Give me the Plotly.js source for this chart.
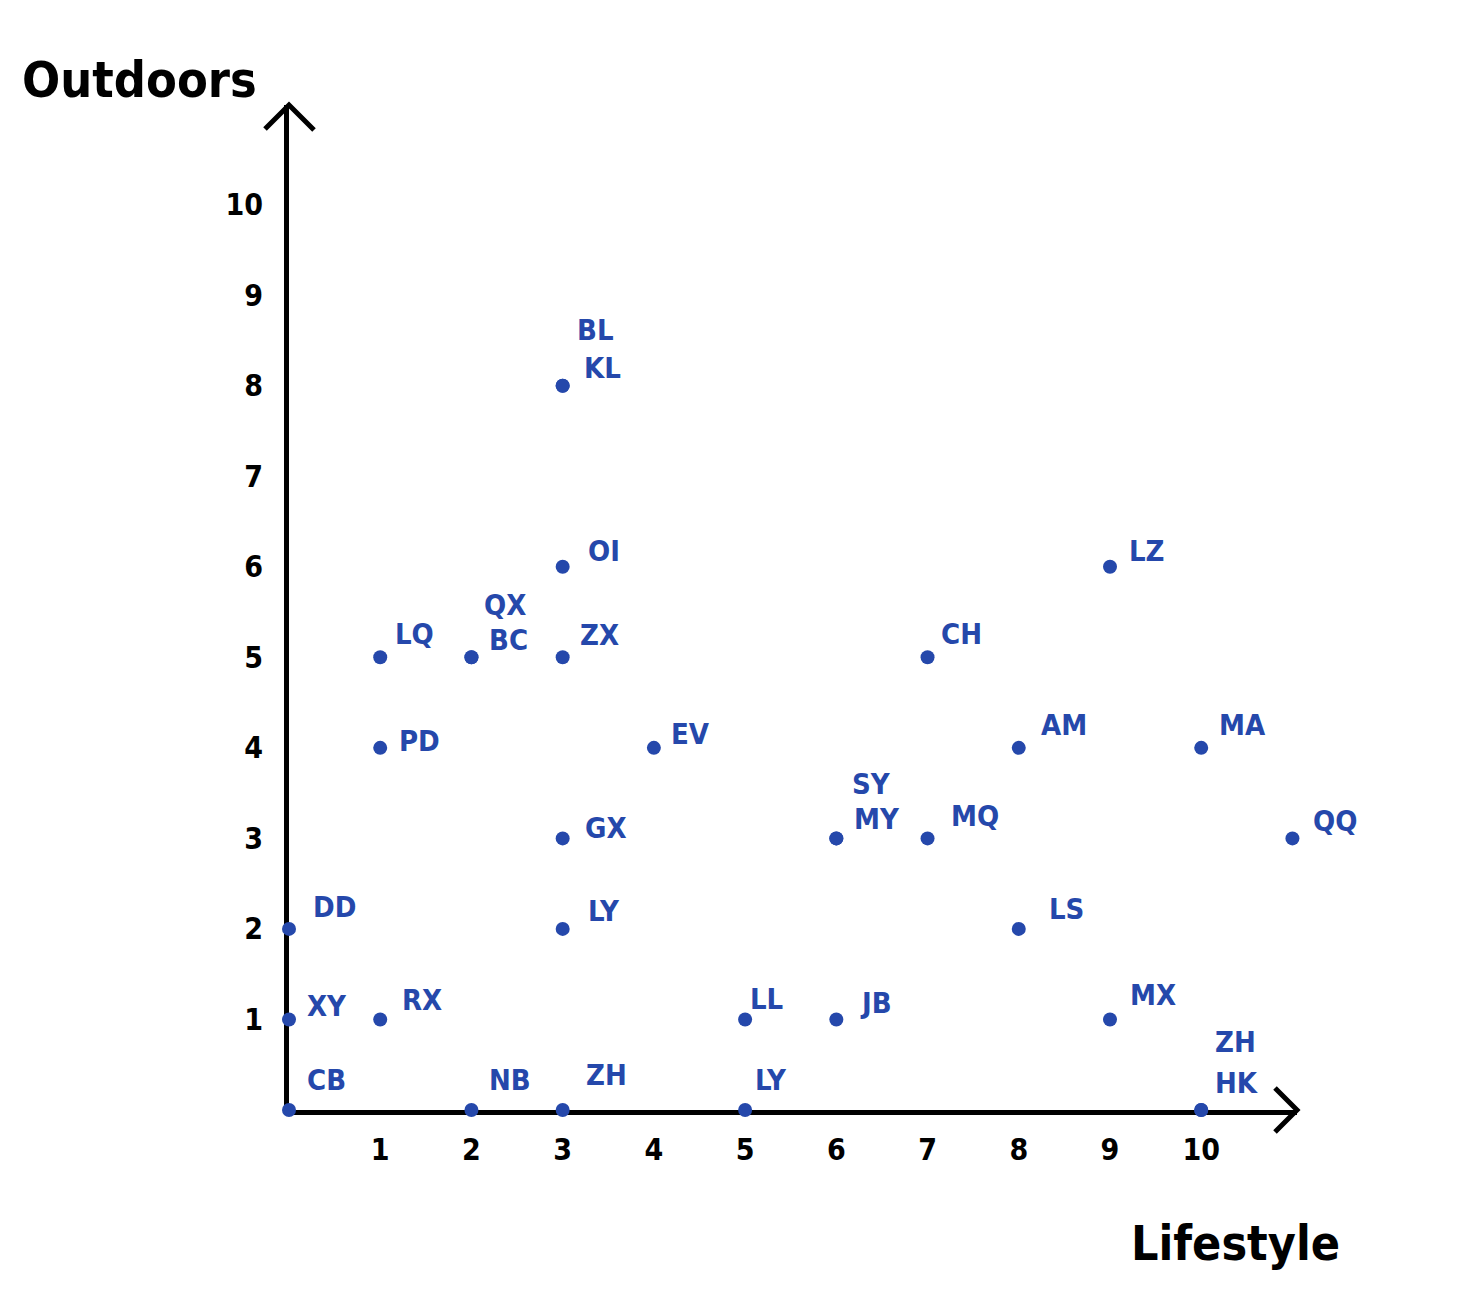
<!DOCTYPE html>
<html>
<head>
<meta charset="utf-8">
<script src="https://cdn.plot.ly/plotly-3.0.1.min.js"></script>
<style>html,body{margin:0;padding:0;background:#fff;}#chart{width:1470px;height:1298px;}</style>
</head>
<body>
<div id="chart"></div>
<script>
// Data
const names     = ['CB','XY','DD','RX','PD','LQ','QX','BC','NB','ZH','LY','GX','ZX','OI','KL','BL','EV','LL','LY','JB','SY','MY','MQ','CH','AM','LS','LZ','MX','ZH','HK','MA','QQ'];
const lifestyle = [0,0,0,1,1,1,2,2,2,3,3,3,3,3,3,3,4,5,5,6,6,6,7,7,8,8,9,9,10,10,10,11];
const outdoors  = [0,1,2,1,4,5,5,5,0,0,2,3,5,6,8,8,4,1,0,1,3,3,3,5,4,2,6,1,0,0,4,3];
const tickVals  = [1,2,3,4,5,6,7,8,9,10];
const tickText  = ['1','2','3','4','5','6','7','8','9','10'];

// Label placement (pixel offsets from each dot), style only
const labelDx = [16,16,22,20,17,13,11,16,16,21,23,20,15,23,19,12,15,3,8,22,14,16,21,11,20,28,17,18,12,12,16,19];
const labelDy = [30,13,22,19,7,23,52,17,30,35,18,10,22,16,18,56,14,20,30,16,54,19,22,23,23,20,16,24,68,27,23,17];

const BLUE = '#2548ab';
const FONT = 'DejaVu Sans Condensed, Noto Sans, sans-serif';

const trace = {
  type: 'scatter',
  mode: 'markers',
  x: lifestyle,
  y: outdoors,
  text: names,
  marker: {color: BLUE, size: 14},
  cliponaxis: false,
  hoverinfo: 'text+x+y'
};

const annotations = names.map((n, i) => ({
  x: lifestyle[i], y: outdoors[i], xref: 'x', yref: 'y',
  text: n, showarrow: false, xanchor: 'left', yanchor: 'middle',
  xshift: labelDx[i], yshift: labelDy[i],
  font: {family: FONT, size: 29, color: BLUE, weight: 'bold'}
}));

annotations.push({
  xref: 'paper', yref: 'paper', x: -0.148, y: 1.0249, xanchor: 'center', yanchor: 'middle',
  text: 'Outdoors', showarrow: false,
  font: {family: FONT, size: 50, color: '#000', weight: 'bold'}
});
annotations.push({
  xref: 'paper', yref: 'paper', x: 0.9385, y: -0.1323, xanchor: 'center', yanchor: 'middle',
  text: 'Lifestyle', showarrow: false,
  font: {family: FONT, size: 48, color: '#000', weight: 'bold'}
});

const shapes = [
  // x-axis arrow head
  {type: 'path', xref: 'paper', yref: 'paper', xsizemode: 'pixel', ysizemode: 'pixel',
   xanchor: 1, yanchor: 0, path: 'M -22 22 L 0 0 L -22 -22',
   line: {color: '#000', width: 5}},
  // y-axis arrow head
  {type: 'path', xref: 'paper', yref: 'paper', xsizemode: 'pixel', ysizemode: 'pixel',
   xanchor: 0, yanchor: 1, path: 'M -24 -24 L 0 0 L 25 -25',
   line: {color: '#000', width: 5}}
];

const layout = {
  width: 1470, height: 1298,
  margin: {l: 289, r: 173, t: 105, b: 188, pad: 0},
  paper_bgcolor: '#fff', plot_bgcolor: '#fff',
  showlegend: false,
  xaxis: {
    range: [0, 11.05], showgrid: false, zeroline: false,
    showline: true, linecolor: '#000', linewidth: 5, layer: 'below traces',
    tickvals: tickVals, ticktext: tickText, ticks: '',
    ticklabelstandoff: 9,
    tickfont: {family: FONT, size: 30, color: '#000', weight: 'bold'}
  },
  yaxis: {
    range: [0, 11.1], showgrid: false, zeroline: false,
    showline: true, linecolor: '#000', linewidth: 5, layer: 'below traces',
    tickvals: tickVals, ticktext: tickText, ticks: '',
    ticklabelstandoff: 15,
    tickfont: {family: FONT, size: 30, color: '#000', weight: 'bold'}
  },
  annotations: annotations,
  shapes: shapes
};

Plotly.newPlot('chart', [trace], layout, {displayModeBar: false, staticPlot: true});
</script>
</body>
</html>
